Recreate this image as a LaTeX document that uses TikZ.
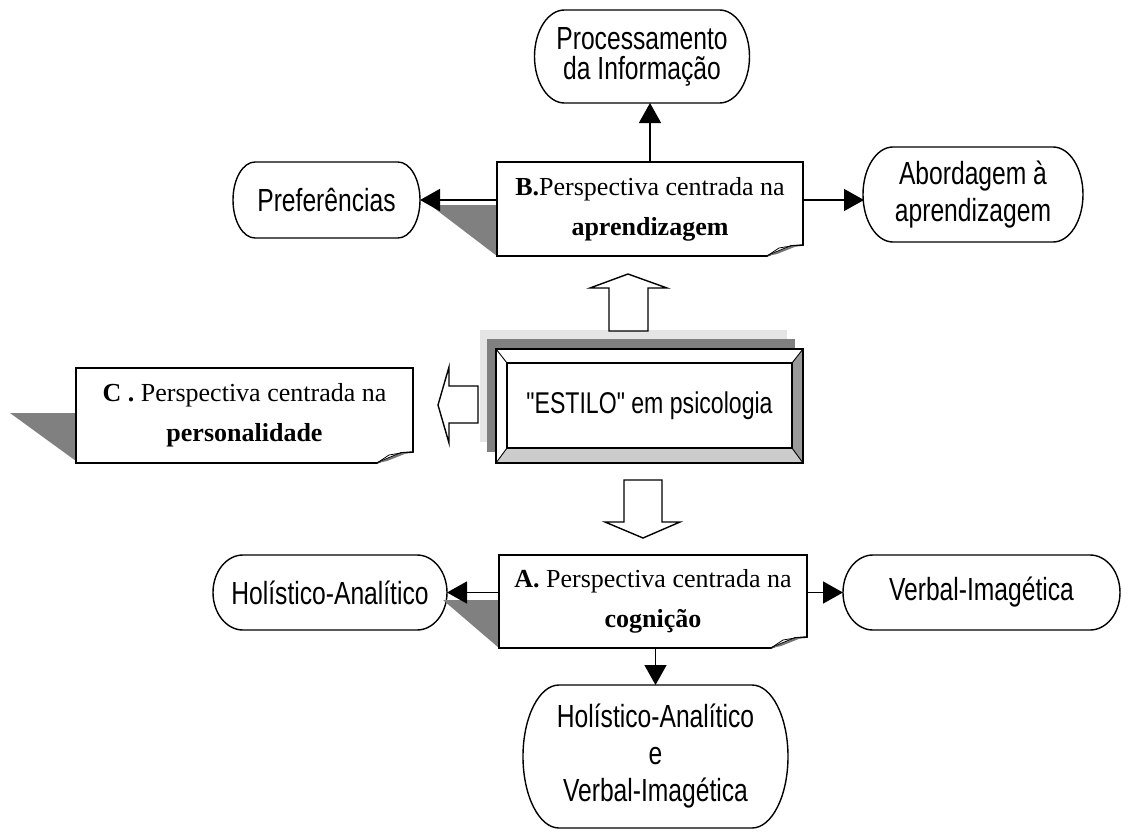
\documentclass[tikz,border=0pt]{standalone}
\usepackage{fontspec}
\setmainfont{Liberation Serif}
\newfontfamily\capfont[FakeStretch=0.77]{Liberation Sans}
\newfontfamily\boxfont{Liberation Serif}
\usetikzlibrary{arrows.meta,calc}

\tikzset{
  capnode/.style={draw=none, inner sep=0pt, outer sep=0pt, align=center,
    font=\capfont\fontsize{32}{37}\selectfont},
  capline/.style={line width=1.4pt},
  papernode/.style={draw=none, fill=white, inner sep=0pt, outer sep=0pt, align=center,
    font=\boxfont\fontsize{26}{40}\selectfont},
  paperline/.style={line width=1.6pt},
  shade/.style={fill=black!50, draw=none},
  conn/.style={line width=1.5pt, -{Triangle[length=20pt,width=22pt]}},
  blockarrow/.style={draw, line width=1.4pt, fill=white, line join=miter},
}

% rounded "capsule" outline with elliptic ends around a node
\newcommand\capsule[2]{%
  \draw[capline] let \p1=(#1.north east), \p2=(#1.south west), \n1={(\y1-\y2)/2} in
    ({\x2+#2},{\y1}) -- ({\x1-#2},{\y1})
    arc[start angle=90, end angle=-90, x radius=#2, y radius=\n1]
    -- ({\x2+#2},{\y2})
    arc[start angle=270, end angle=90, x radius=#2, y radius=\n1] -- cycle;}

% note box outline with a curled bottom-right corner
\newcommand\paperbox[1]{%
  \draw[paperline, fill=white] (#1.south west) -- (#1.north west) -- (#1.north east)
    -- ([yshift=11pt]#1.south east) -- ([shift={(-12pt,10pt)}]#1.south east)
    -- ([xshift=-36pt]#1.south east) -- cycle;
  \fill[black!55] ([xshift=-36pt]#1.south east) -- ([shift={(-12pt,10pt)}]#1.south east)
    -- ([shift={(-6pt,10pt)}]#1.south east) -- ([shift={(-26pt,2pt)}]#1.south east) -- cycle;
  \draw[line width=0.8pt] ([xshift=-36pt]#1.south east) -- ([shift={(-24pt,8pt)}]#1.south east)
    -- ([shift={(-12pt,10pt)}]#1.south east);}

\begin{document}
\begin{tikzpicture}[x=1pt, y=1pt]
\useasboundingbox (0,0) rectangle (1136,-835);

% ---------- capsules ----------
\node[capnode, minimum width=215pt, minimum height=93pt, font=\capfont\fontsize{32}{30}\selectfont]
  (proc) at (642,-56.5) {Processamento\\da Informação};
\node[capnode, minimum width=187pt, minimum height=76pt] (pref) at (326.5,-200) {Preferências};
\node[capnode, minimum width=220pt, minimum height=95pt] (abord) at (973,-194.5) {Abordagem à\\aprendizagem};
\node[capnode, minimum width=234pt, minimum height=75pt] (holl) at (330,-592.5) {Holístico-Analítico};
\node[capnode, minimum width=277pt, minimum height=75pt] (verb) at (981.5,-592.5) {Verbal-Imagética};
\node[capnode, minimum width=265pt, minimum height=143pt] (both) at (655.5,-756.5)
  {Holístico-Analítico\\e\\Verbal-Imagética};
\capsule{proc}{30pt}
\capsule{pref}{22pt}
\capsule{abord}{30pt}
\capsule{holl}{30pt}
\capsule{verb}{30pt}
\capsule{both}{36pt}

% ---------- shadows of the note boxes ----------
\fill[shade] (430,-205) -- (497,-205) -- (497,-256) -- cycle;
\fill[shade] (10,-413) -- (76,-413) -- (76,-461) -- cycle;
\fill[shade] (443,-600) -- (499,-600) -- (499,-648) -- cycle;

% ---------- note boxes ----------
\node[papernode, minimum width=306pt, minimum height=94pt] (B) at (650,-209) {};
\node[papernode, minimum width=337pt, minimum height=95pt] (C) at (244.5,-415.5) {};
\node[papernode, minimum width=308pt, minimum height=93pt] (A) at (653,-601.5) {};
\paperbox{B}
\paperbox{C}
\paperbox{A}
\node[papernode, fill=none] (Btext) at (B.center) {\textbf{B.}Perspectiva centrada na\\\textbf{aprendizagem}};
\node[papernode, fill=none] (Ctext) at (C.center) {\textbf{C .} Perspectiva centrada na\\\textbf{personalidade}};
\node[papernode, fill=none] (Atext) at (A.center) {\textbf{A.} Perspectiva centrada na\\\textbf{cognição}};

% ---------- central bevelled box ----------
\fill[black!10] (480,-330) rectangle (787,-442);
\fill[black!50] (487,-339) rectangle (795,-452);
\node[draw=none, inner sep=0pt, outer sep=0pt, minimum width=307pt, minimum height=114pt,
      font=\capfont\fontsize{30}{36}\selectfont] (estilo) at (649.5,-406) {};
\coordinate (inw) at ([shift={(11pt,-14pt)}]estilo.north west);
\coordinate (ine) at ([shift={(-11pt,-14pt)}]estilo.north east);
\coordinate (isw) at ([shift={(11pt,15pt)}]estilo.south west);
\coordinate (ise) at ([shift={(-11pt,15pt)}]estilo.south east);
\fill[white] (estilo.north west) -- (estilo.north east) -- (ine) -- (inw) -- cycle;
\fill[white] (estilo.north west) -- (inw) -- (isw) -- (estilo.south west) -- cycle;
\fill[black!40] (estilo.north east) -- (estilo.south east) -- (ise) -- (ine) -- cycle;
\fill[black!20] (estilo.south west) -- (isw) -- (ise) -- (estilo.south east) -- cycle;
\fill[white] (inw) rectangle (ise);
\draw[line width=0.9pt] (estilo.north west) -- (inw) (estilo.north east) -- (ine)
  (estilo.south west) -- (isw) (estilo.south east) -- (ise);
\draw[line width=1.4pt] (inw) rectangle (ise);
\draw[line width=2pt] (estilo.north west) rectangle (estilo.south east);
\node[font=\capfont\fontsize{30}{36}\selectfont, inner sep=0pt] (estilotext) at (estilo.center) {"ESTILO" em psicologia};

% ---------- hollow block arrows from the centre ----------
\draw[blockarrow] (609,-331) -- (609,-288) -- (590,-288) -- (628,-274) -- (667,-288)
  -- (648,-288) -- (648,-331) -- cycle;
\draw[blockarrow] (624,-480) -- (662,-480) -- (662,-522) -- (680,-522) -- (643,-538)
  -- (605,-522) -- (624,-522) -- cycle;
\draw[blockarrow] (478,-386) -- (449,-386) -- (449,-367) -- (438,-405) -- (449,-443)
  -- (449,-423) -- (478,-423) -- cycle;

% ---------- connectors ----------
\draw[conn] (B.north) -- (B.north |- proc.south);
\draw[conn] (B.west |- pref.east) -- (pref.east);
\draw[conn] (B.east |- pref.east) -- ([xshift=1pt]abord.west |- pref.east);
\draw[conn] (A.west |- holl.east) -- (holl.east);
\draw[conn] (A.east |- holl.east) -- (verb.west |- holl.east);
\draw[conn] (both.north |- A.south) -- (both.north);
\end{tikzpicture}
\end{document}
